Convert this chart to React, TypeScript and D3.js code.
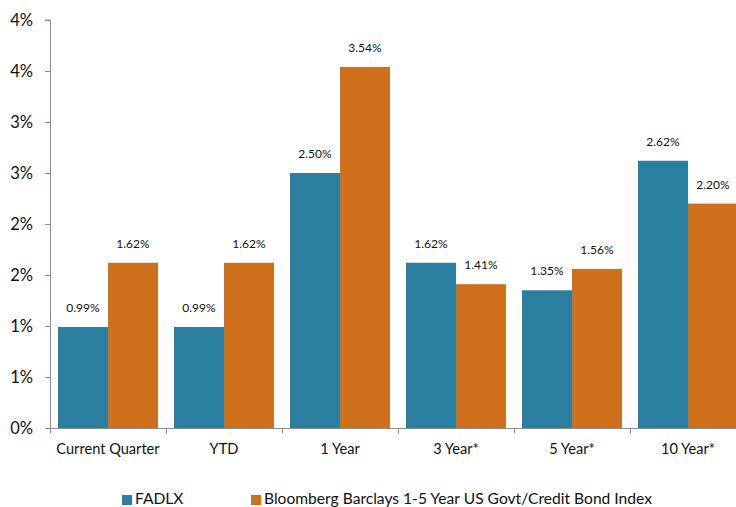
import React, { useEffect, useRef } from "react";
import * as d3 from "d3";

const categories = ["Current Quarter", "YTD", "1 Year", "3 Year*", "5 Year*", "10 Year*"];
const seriesNames = ["FADLX", "Bloomberg Barclays 1-5 Year US Govt/Credit Bond Index"];
const fadlx = [0.99, 0.99, 2.5, 1.62, 1.35, 2.62];
const bloomberg = [1.62, 1.62, 3.54, 1.41, 1.56, 2.2];
const yTicks = [0, 0.5, 1, 1.5, 2, 2.5, 3, 3.5, 4];
const colors = ["#2a7fa1", "#cf701d"];

const W = 736;
const H = 507;
const FONT = "Lato, 'Open Sans', sans-serif";

export default function App() {
  const ref = useRef<SVGSVGElement>(null);
  useEffect(() => {
    const svg = d3.select(ref.current);
    svg.selectAll("*").remove();
    const left = 50;
    const step = 116;
    const x = d3.scaleBand<string>().domain(categories).range([left, left + step * categories.length]).padding(0);
    const xi = d3.scaleBand<string>().domain(seriesNames).range([8, step - 8]).padding(0);
    const y = d3.scaleLinear().domain([0, 4]).range([428, 20]);
    const values = [fadlx, bloomberg];

    // y axis
    const ya = svg.append("g").attr("transform", `translate(${left},0)`)
      .call(d3.axisLeft(y).tickValues(yTicks).tickSize(5).tickPadding(12).tickFormat((d: any) => Math.round(d) + "%"));
    ya.select(".domain").attr("stroke", "#8c8c8c").attr("d", `M-5,${y(4)}H0.5V${y(0)}`);
    ya.selectAll(".tick line").attr("stroke", "#8c8c8c");
    ya.selectAll(".tick text").attr("font-family", FONT).attr("font-size", 16.5).attr("fill", "#111");

    // bars
    seriesNames.forEach((s, si) => {
      svg.append("g").selectAll("rect").data(values[si]).join("rect")
        .attr("x", (_d, i) => (x(categories[i]) as number) + (xi(s) as number))
        .attr("width", xi.bandwidth())
        .attr("y", (d) => y(d))
        .attr("height", (d) => y(0) - y(d))
        .attr("fill", colors[si]);
      svg.append("g").selectAll("text").data(values[si]).join("text")
        .attr("x", (_d, i) => (x(categories[i]) as number) + (xi(s) as number) + xi.bandwidth() / 2)
        .attr("y", (d) => y(d) - 15)
        .attr("text-anchor", "middle")
        .attr("font-family", FONT)
        .attr("font-size", 12)
        .attr("fill", "#111")
        .text((d) => d.toFixed(2) + "%");
    });

    // x axis
    const xa = svg.append("g").attr("transform", `translate(0,${y(0)})`);
    xa.append("path").attr("d", `M${left},0.5H${left + step * categories.length}`).attr("stroke", "#8c8c8c").attr("fill", "none");
    categories.forEach((c) => {
      const bx = x(c) as number;
      xa.append("line").attr("x1", bx + 0.5).attr("x2", bx + 0.5).attr("y1", 0).attr("y2", 5).attr("stroke", "#8c8c8c");
      xa.append("text").attr("x", bx + step / 2).attr("y", 26).attr("text-anchor", "middle")
        .attr("font-family", FONT).attr("font-size", 14.6).attr("fill", "#111").text(c);
    });

    // legend
    const lg = svg.append("g");
    const lx = [122, 251];
    seriesNames.forEach((s, si) => {
      lg.append("rect").attr("x", lx[si]).attr("y", 495).attr("width", 10).attr("height", 10).attr("fill", colors[si]);
      lg.append("text").attr("x", lx[si] + 13).attr("y", 503.5).attr("font-family", FONT).attr("font-size", 15.6)
        .attr("fill", "#111").text(s);
    });
  }, []);
  return (
    <div style={{ position: "fixed", left: 0, top: 0, width: W, height: H, background: "#fff" }}>
      <svg ref={ref} width={W} height={H} style={{ display: "block" }} />
    </div>
  );
}
